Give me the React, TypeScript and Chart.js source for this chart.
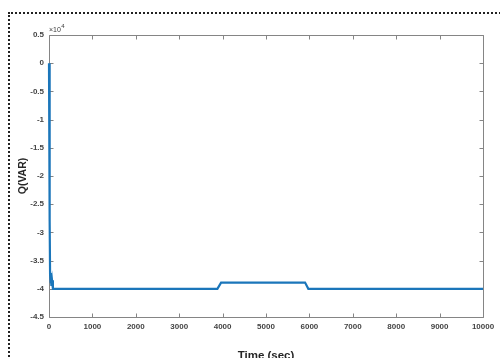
import React, { useEffect, useRef } from "react";
import { Chart, registerables } from "chart.js";

Chart.register(...registerables);

// ---- data (Q in units of ×10^4 VAR) ----
const timeSec = [0, 15, 25, 35, 45, 55, 70, 90, 3880, 3965, 5900, 5975, 10000];
const qVar1e4 = [0, -2.8, -3.75, -3.9, -3.72, -3.95, -3.85, -4.0, -4.0, -3.89, -3.89, -4.0, -4.0];

const xTickValues = [0, 1000, 2000, 3000, 4000, 5000, 6000, 7000, 8000, 9000, 10000];
const yTickValues = [0.5, 0, -0.5, -1, -1.5, -2, -2.5, -3, -3.5, -4, -4.5];

const xTitle = "Time (sec)";
const yTitle = "Q(VAR)";
const exponentBase = "×10";
const exponentPower = "4";

const FONT = "'Liberation Sans', Arial, sans-serif";

const matlabAxes = {
  id: "matlabAxes",
  beforeDatasetsDraw(chart: any) {
    const { ctx, chartArea, scales } = chart;
    const { left, top, right, bottom } = chartArea;
    const x = scales.x;
    const y = scales.y;
    ctx.save();
    ctx.strokeStyle = "#858585";
    ctx.lineWidth = 1;
    ctx.beginPath();
    const l = Math.round(left) + 0.5;
    const r = Math.round(right) + 0.5;
    const t = Math.round(top) + 0.5;
    const b = Math.round(bottom) + 0.5;
    ctx.moveTo(l, t);
    ctx.lineTo(r, t);
    ctx.lineTo(r, b);
    ctx.lineTo(l, b);
    ctx.closePath();
    const tl = 4;
    xTickValues.forEach((v) => {
      const px = Math.round(x.getPixelForValue(v)) + 0.5;
      ctx.moveTo(px, b);
      ctx.lineTo(px, b - tl);
      ctx.moveTo(px, t);
      ctx.lineTo(px, t + tl);
    });
    yTickValues.forEach((v) => {
      const py = Math.round(y.getPixelForValue(v)) + 0.5;
      ctx.moveTo(l, py);
      ctx.lineTo(l + tl, py);
      ctx.moveTo(r, py);
      ctx.lineTo(r - tl, py);
    });
    ctx.stroke();
    ctx.restore();
  },
  afterDraw(chart: any) {
    const { ctx, chartArea } = chart;
    const { left, top, right, bottom } = chartArea;
    ctx.save();
    ctx.fillStyle = "#262626";
    // x title
    ctx.font = `bold 11.5px ${FONT}`;
    ctx.textAlign = "center";
    ctx.textBaseline = "alphabetic";
    ctx.fillText(xTitle, (left + right) / 2, 359);
    // y title
    ctx.save();
    ctx.translate(25.5, (top + bottom) / 2);
    ctx.rotate(-Math.PI / 2);
    ctx.font = `bold 10.5px ${FONT}`;
    ctx.textAlign = "center";
    ctx.textBaseline = "alphabetic";
    ctx.fillText(yTitle, 0, 0);
    ctx.restore();
    // exponent
    ctx.fillStyle = "#3a3a3a";
    ctx.textAlign = "left";
    ctx.font = `7px ${FONT}`;
    ctx.fillText(exponentBase, left, top - 3);
    const w = ctx.measureText(exponentBase).width;
    ctx.font = `6px ${FONT}`;
    ctx.fillText(exponentPower, left + w + 0.5, top - 7.5);
    ctx.restore();
  },
};

export default function App() {
  const canvasRef = useRef<HTMLCanvasElement | null>(null);

  useEffect(() => {
    const canvas = canvasRef.current;
    if (!canvas) return;
    const points = timeSec.map((t, i) => ({ x: t, y: qVar1e4[i] }));
    const chart = new Chart(canvas, {
      type: "line",
      data: {
        datasets: [
          {
            data: points,
            borderColor: "#1B76BA",
            borderWidth: 2.2,
            pointRadius: 0,
            tension: 0,
            fill: false,
            clip: 6,
          } as any,
        ],
      },
      options: {
        animation: false,
        responsive: false,
        devicePixelRatio: 1,
        layout: { padding: { top: 35, right: 17, left: 0, bottom: 0 } },
        plugins: {
          legend: { display: false },
          tooltip: { enabled: false },
        },
        scales: {
          x: {
            type: "linear",
            min: 0,
            max: 10000,
            afterFit: (s: any) => {
              s.height = 41;
            },
            afterBuildTicks: (s: any) => {
              s.ticks = xTickValues.map((v) => ({ value: v }));
            },
            grid: { display: false, drawTicks: false },
            border: { display: false },
            ticks: {
              padding: 5,
              color: "#444",
              font: { family: FONT, size: 8, weight: "bold" },
              maxRotation: 0,
              autoSkip: false,
              callback: (v: any) => String(v),
            },
          },
          y: {
            type: "linear",
            min: -4.5,
            max: 0.5,
            afterFit: (s: any) => {
              s.width = 49;
            },
            afterBuildTicks: (s: any) => {
              s.ticks = yTickValues.map((v) => ({ value: v }));
            },
            grid: { display: false, drawTicks: false },
            border: { display: false },
            ticks: {
              padding: 5,
              color: "#444",
              font: { family: FONT, size: 8, weight: "bold" },
              autoSkip: false,
              callback: (v: any) => String(Number(Number(v).toFixed(1)) || 0),
            },
          },
        },
      },
      plugins: [matlabAxes],
    });
    return () => chart.destroy();
  }, []);

  return (
    <div
      style={{
        position: "fixed",
        left: 0,
        top: 0,
        width: 500,
        height: 358,
        background: "#fff",
        overflow: "hidden",
      }}
    >
      <div
        style={{
          position: "absolute",
          left: 8,
          top: 12,
          width: 600,
          height: 500,
          border: "2px dotted #222",
          boxSizing: "border-box",
        }}
      />
      <canvas
        ref={canvasRef}
        width={500}
        height={358}
        style={{ position: "absolute", left: 0, top: 0, width: 500, height: 358 }}
      />
    </div>
  );
}
